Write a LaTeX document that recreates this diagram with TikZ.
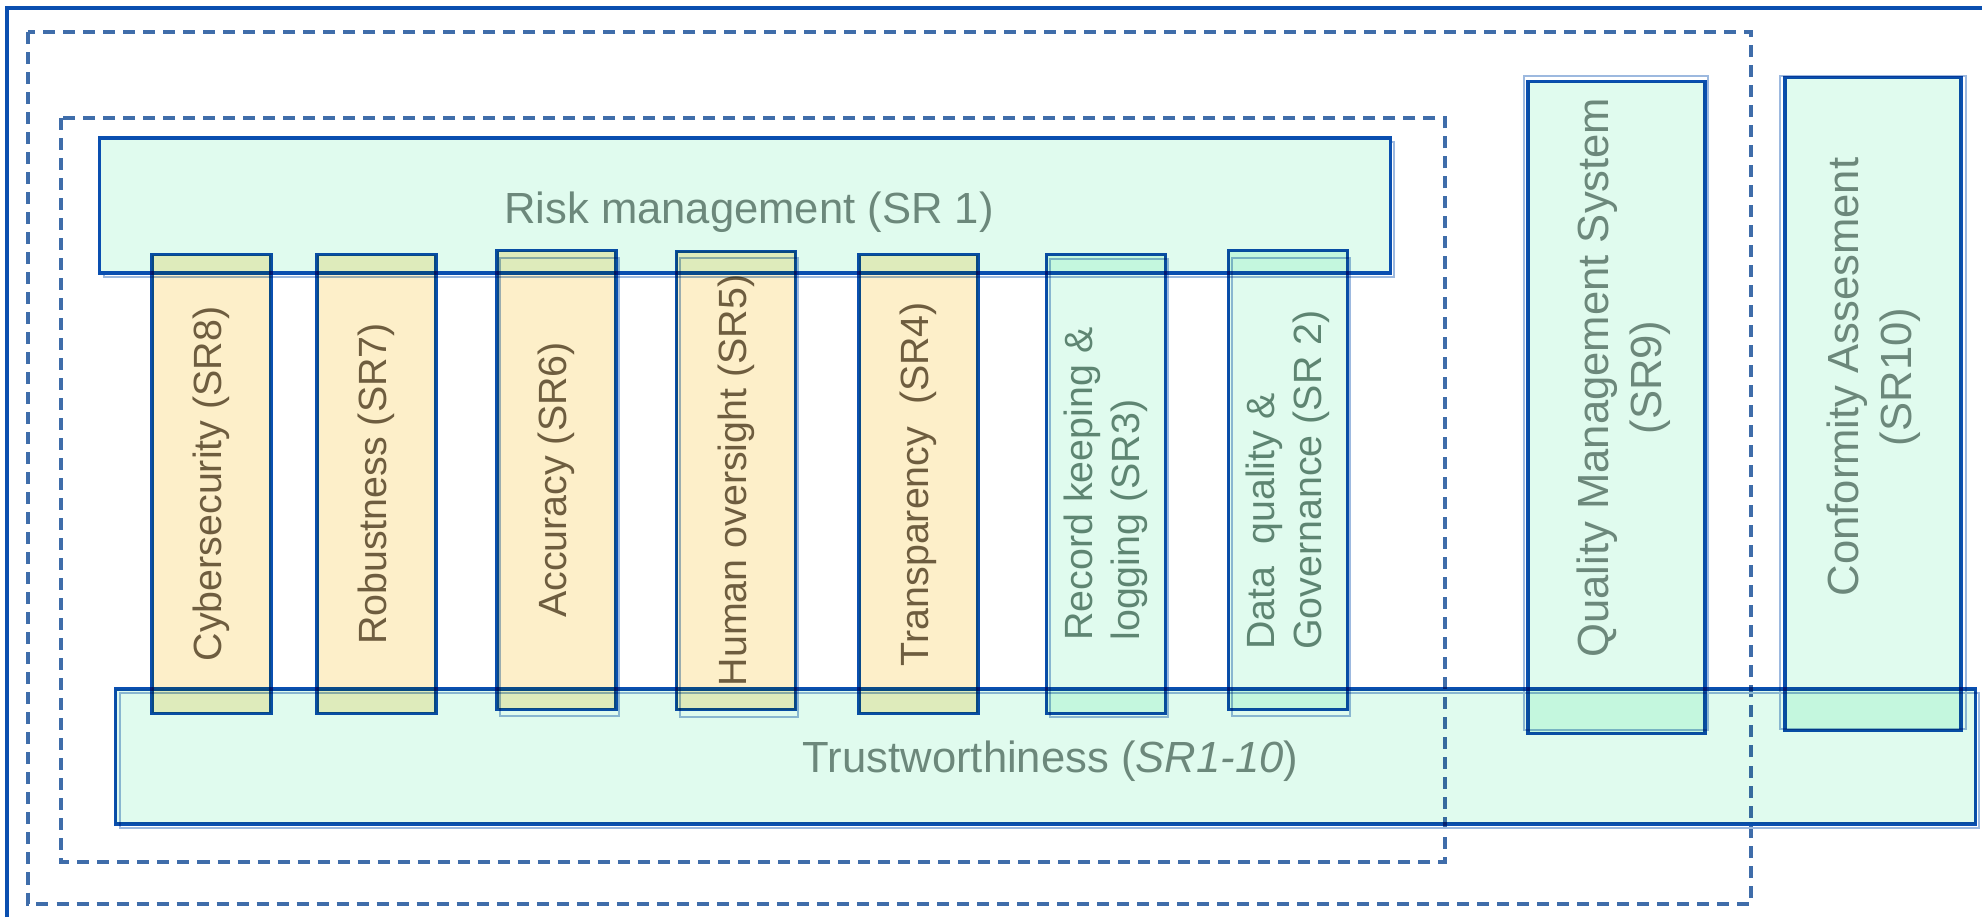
\documentclass[tikz,border=0pt]{standalone}
\usepackage{fontspec}
\setmainfont{Liberation Sans}
\usetikzlibrary{calc}
\usepackage{xcolor}
\definecolor{frameblue}{HTML}{0A4FB0}
\definecolor{dashblue}{HTML}{3F6DAA}
\definecolor{mintfill}{HTML}{E0FBEE}
\definecolor{sandfill}{HTML}{FDEFC9}
\definecolor{mintink}{HTML}{6C887B}
\definecolor{sandink}{HTML}{6F6450}
\tikzset{
  bigtext/.style={font=\fontsize{12.4}{15}\selectfont},
  smalltext/.style={font=\fontsize{11.2}{13.4}\selectfont},
  dashframe/.style={draw=dashblue, line width=1.1pt, dash pattern=on 0.12cm off 0.08cm},
  ghost/.style={draw=frameblue!40, line width=0.8pt},
  band/.style={draw=frameblue, line width=0.9pt, fill=mintfill, inner sep=0pt},
  bandtext/.style={text=mintink, inner sep=0pt, bigtext, align=center},
  pillar/.style={draw=frameblue, line width=0.9pt, fill=sandfill, text=sandink, inner sep=0pt,
    rotate=90, minimum width=4.58cm, minimum height=1.19cm, smalltext, align=left},
  mintpillar/.style={pillar, fill=mintfill, text=mintink},
  tower/.style={band, rotate=90}
}
\begin{document}
\begin{tikzpicture}[x=0.01cm, y=-0.01cm]
\useasboundingbox (0,0) rectangle (1982,917);
\draw[frameblue, line width=1pt] (7,917) -- (7,8) -- (1982,8);
\draw[dashframe] (28,32) rectangle (1751,904);
\draw[dashframe] (61,118) rectangle (1445,862);

\draw[ghost] (104,142) rectangle (1394,277);
\draw[ghost] (120,693) rectangle (1979,828);
\draw[ghost] (1524,76) rectangle (1708,730);
\draw[ghost] (1780,76) rectangle (1966,729);

\node[band, minimum width=12.9cm, minimum height=1.35cm] (risk) at (745,205.5) {};
\node[bandtext] (risklabel) at ($(risk.center)+(4,7)$) {Risk management (SR 1)};

\begin{scope}[blend mode=multiply]
\node[band, minimum width=18.59cm, minimum height=1.35cm] (trust) at (1045.5,756.5) {};
\draw[ghost] (500,258) rectangle (619,716);
\draw[ghost] (680,258) rectangle (798,717);
\draw[ghost] (1050,259) rectangle (1168,717);
\draw[ghost] (1232,258) rectangle (1350,716);
\node[pillar] (cyber) at (211.5,484) {Cybersecurity (SR8)};
\node[pillar] (robust) at (376.5,484) {Robustness (SR7)};
\node[pillar] (accur) at (556.5,480) {Accuracy (SR6)};
\node[pillar] (human) at (736,480.5) {Human oversight (SR5)};
\node[pillar] (transp) at (918.5,484) {Transparency\ \ (SR4)};
\node[mintpillar] (record) at (1106,484) {Record keeping \&\\logging (SR3)};
\node[mintpillar] (dataq) at (1288,480) {Data\ \ quality \&\\Governance (SR 2)};
\node[tower, minimum width=6.51cm, minimum height=1.77cm] (qms) at (1616.5,407.5) {};
\node[tower, minimum width=6.52cm, minimum height=1.76cm] (conform) at (1873,404) {};
\end{scope}
\node[bandtext] (trustlabel) at ($(trust.center)+(5,5)$) {Trustworthiness (\textit{SR1-10})};
\node[bandtext, rotate=90] (qmslabel) at ($(qms.center)+(7,-30)$) {Quality Management System\\(SR9)};
\node[bandtext, rotate=90] (conformlabel) at ($(conform.center)+(1,-27)$) {Conformity Assesment\\(SR10)};
\end{tikzpicture}
\end{document}
